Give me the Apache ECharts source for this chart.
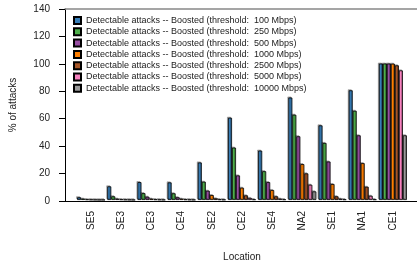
<!DOCTYPE html>
<html>
<head>
<meta charset="utf-8">
<script src="https://cdn.jsdelivr.net/npm/echarts@6/dist/echarts.min.js"></script>
<style>html,body{margin:0;padding:0;background:#fff;}#c{width:417px;height:267px;}</style>
</head>
<body>
<div id="c"></div>
<script>
var categories = ['SE5','SE3','CE3','CE4','SE2','CE2','SE4','NA2','SE1','NA1','CE1'];
var thresholds = ['100','250','500','1000','2500','5000','10000'];
var s100   = [2.0, 10.0, 13.1, 12.9, 27.5, 60.3, 36.2, 75.1, 54.7, 80.4, 100];
var s250   = [1.0, 2.7, 5.0, 4.9, 13.4, 38.4, 21.1, 62.5, 41.8, 65.4, 100];
var s500   = [0.5, 1.0, 2.4, 2.0, 6.8, 18.0, 13.1, 46.7, 28.2, 47.4, 100];
var s1000  = [0.3, 0.5, 1.0, 1.0, 3.6, 9.0, 7.3, 26.3, 11.7, 27.0, 99.9];
var s2500  = [0.2, 0.3, 0.5, 0.5, 1.2, 3.4, 2.7, 19.5, 2.7, 9.7, 98.7];
var s5000  = [0.1, 0.2, 0.3, 0.3, 0.5, 1.5, 1.0, 11.2, 1.0, 3.1, 95.0];
var s10000 = [0.1, 0.1, 0.2, 0.2, 0.3, 0.5, 0.5, 6.3, 0.5, 0.5, 47.4];
var yTicks = [0, 20, 40, 60, 80, 100, 120, 140];

var seriesValues = [s100, s250, s500, s1000, s2500, s5000, s10000];
var colors = ['#377eb8','#4daf4a','#984ea3','#ff7f00','#a65628','#f781bf','#999999'];
var names = thresholds.map(function(t){ return 'Detectable attacks -- Boosted (threshold:  ' + t + ' Mbps)'; });
var FONT = 'Liberation Sans, Arial, sans-serif';

var chart = echarts.init(document.getElementById('c'), null, {renderer:'canvas'});
var series = seriesValues.map(function(vals, i){
  return {
    name: names[i], type: 'bar', xAxisIndex: 1, yAxisIndex: 1,
    data: vals, barWidth: 4, barGap: '0%',
    itemStyle: {color: colors[i], borderColor: '#000', borderWidth: 0.8,
      shadowColor: 'rgba(0,0,0,0.3)', shadowOffsetX: -1, shadowOffsetY: -1, shadowBlur: 0}
  };
});

chart.setOption({
  animation: false,
  backgroundColor: '#fff',
  grid: [
    {left: 64, right: 0, top: 9, bottom: 66, containLabel: false},
    {left: 76, right: 9, top: 9, bottom: 66, containLabel: false}
  ],
  legend: {
    orient: 'vertical', left: 73, top: 16, padding: 0, itemWidth: 7, itemHeight: 7, itemGap: 2.3,
    icon: 'rect',
    textStyle: {fontSize: 9, fontFamily: FONT, color: '#222', lineHeight: 9},
    data: names
  },
  xAxis: [
    {type: 'value', gridIndex: 0, min: 0, max: 1, position: 'bottom',
     axisLine: {show: true, lineStyle: {color: '#000', width: 1}},
     axisTick: {show: false}, axisLabel: {show: false}, splitLine: {show: false}},
    {type: 'category', gridIndex: 1, data: categories, boundaryGap: true,
     axisLine: {show: false}, axisTick: {show: false}, splitLine: {show: false},
     axisLabel: {rotate: 90, margin: 11, fontSize: 10, fontFamily: FONT, color: '#222', interval: 0},
     name: 'Location', nameLocation: 'middle', nameGap: 52,
     nameTextStyle: {fontSize: 10, fontFamily: FONT, color: '#222'}},
    {type: 'value', gridIndex: 0, min: 0, max: 1, position: 'top',
     axisLine: {show: true, lineStyle: {color: '#888', width: 1.5}},
     axisTick: {show: false}, axisLabel: {show: false}, splitLine: {show: false}}
  ],
  yAxis: [
    {type: 'value', gridIndex: 0, min: yTicks[0], max: yTicks[yTicks.length-1], interval: 20,
     axisLine: {show: true, lineStyle: {color: '#000', width: 1}},
     axisTick: {show: true, inside: false, length: 6, lineStyle: {color: '#000'}},
     axisLabel: {fontSize: 10, fontFamily: FONT, color: '#222', margin: 15},
     splitLine: {show: false},
     name: '% of attacks', nameLocation: 'middle', nameGap: 47, nameRotate: 90,
     nameTextStyle: {fontSize: 10, fontFamily: FONT, color: '#222'}},
    {type: 'value', gridIndex: 1, min: 0, max: 140, interval: 20, show: false}
  ],
  series: series
});
</script>
</body>
</html>
